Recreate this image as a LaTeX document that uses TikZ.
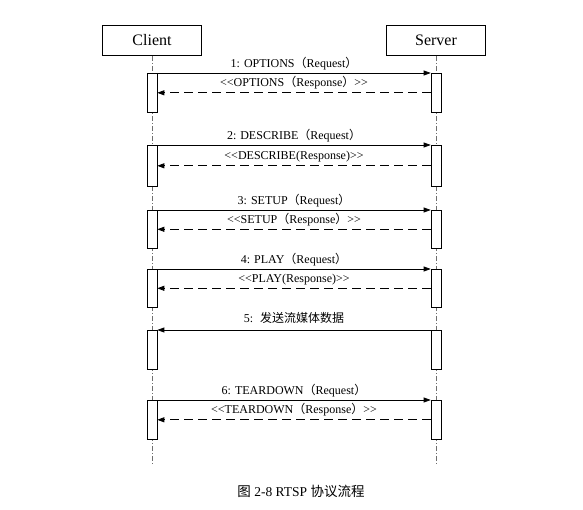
\documentclass[tikz,border=0pt]{standalone}
\usepackage{fontspec}
\setmainfont{Liberation Serif}
\newfontfamily\cjk{Noto Sans CJK SC}
\usepackage{tikz}
\usetikzlibrary{arrows.meta, positioning}
\definecolor{lifegray}{RGB}{110,110,110}
\newcommand{\lpar}{{\cjk （}}
\newcommand{\rpar}{{\cjk ）}}
\tikzset{
  actor/.style={rectangle, draw=black, fill=white,
    minimum width=99pt, minimum height=30pt,
    font=\fontsize{16}{18}\selectfont, line width=0.6pt},
  bar/.style={rectangle, draw=black, fill=white, anchor=north,
    minimum width=10pt, inner sep=0pt, line width=0.6pt},
  lifeline/.style={lifegray, line width=0.6pt,
    dash pattern=on 5pt off 2pt on 1pt off 2pt},
  call/.style={-{Triangle[length=7pt,width=5pt]}, line width=0.7pt},
  reply/.style={-{Triangle[length=7pt,width=5pt]}, line width=0.8pt,
    dash pattern=on 9pt off 5pt},
  msg/.style={font=\fontsize{12}{14}\selectfont, inner sep=1pt}
}
\begin{document}
\begin{tikzpicture}[x=1pt, y=-1pt]
  \useasboundingbox (0,0) rectangle (583,510);

  % Actors
  \node[actor] (client) at (152,40.5) {Client};
  \node[actor] (server) at (436,40.5) {Server};

  % Lifelines
  \coordinate (c_end) at (152,465);
  \coordinate (s_end) at (436,465);
  \draw[lifeline] (client.south) -- (c_end);
  \draw[lifeline] (server.south) -- (s_end);

  % Activation bars
  \node[bar, minimum height=39pt] (cb1) at (152,73) {};
  \node[bar, minimum height=39pt] (sb1) at (436,73) {};
  \node[bar, minimum height=41pt] (cb2) at (152,145) {};
  \node[bar, minimum height=41pt] (sb2) at (436,145) {};
  \node[bar, minimum height=38pt] (cb3) at (152,210) {};
  \node[bar, minimum height=38pt] (sb3) at (436,210) {};
  \node[bar, minimum height=38pt] (cb4) at (152,269) {};
  \node[bar, minimum height=38pt] (sb4) at (436,269) {};
  \node[bar, minimum height=39pt] (cb5) at (152,330) {};
  \node[bar, minimum height=39pt] (sb5) at (436,330) {};
  \node[bar, minimum height=39pt] (cb6) at (152,400) {};
  \node[bar, minimum height=39pt] (sb6) at (436,400) {};

  % OPTIONS
  \draw[call] (cb1.north east) -- node[msg, above=2pt] {1: OPTIONS\lpar Request\rpar} (sb1.north west);
  \draw[reply] (sb1.west) -- node[msg, above=2pt] {<{}<OPTIONS\lpar Response\rpar>{}>} (cb1.east);

  % DESCRIBE
  \draw[call] (cb2.north east) -- node[msg, above=2pt] {2: DESCRIBE\lpar Request\rpar} (sb2.north west);
  \draw[reply] (sb2.west) -- node[msg, above=2pt] {<{}<DESCRIBE(Response)>{}>} (cb2.east);

  % SETUP
  \draw[call] (cb3.north east) -- node[msg, above=2pt] {3: SETUP\lpar Request\rpar} (sb3.north west);
  \draw[reply] (sb3.west) -- node[msg, above=2pt] {<{}<SETUP\lpar Response\rpar>{}>} (cb3.east);

  % PLAY
  \draw[call] (cb4.north east) -- node[msg, above=2pt] {4: PLAY\lpar Request\rpar} (sb4.north west);
  \draw[reply] (sb4.west) -- node[msg, above=2pt] {<{}<PLAY(Response)>{}>} (cb4.east);

  % Streaming
  \draw[call] (sb5.north west) -- node[msg, above=5pt] {5:~ {\cjk 发送流媒体数据}} (cb5.north east);

  % TEARDOWN
  \draw[call] (cb6.north east) -- node[msg, above=2pt] {6: TEARDOWN\lpar Request\rpar} (sb6.north west);
  \draw[reply] (sb6.west) -- node[msg, above=2pt] {<{}<TEARDOWN\lpar Response\rpar>{}>} (cb6.east);

  % Caption
  \node[font=\fontsize{13.5}{15}\selectfont] (caption) at (301,491)
    {{\cjk 图} 2-8 RTSP {\cjk 协议流程}};
\end{tikzpicture}
\end{document}
